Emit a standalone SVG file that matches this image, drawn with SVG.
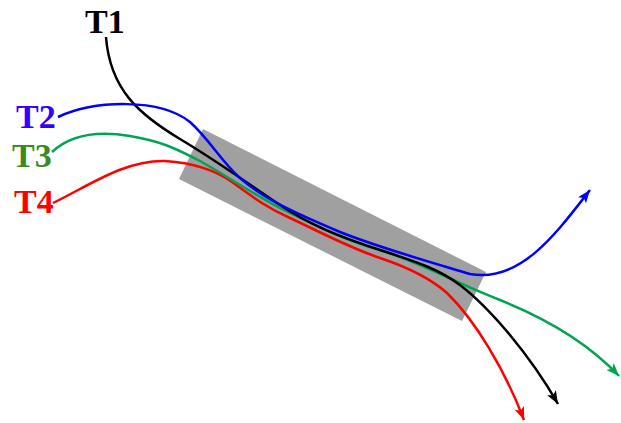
<svg xmlns="http://www.w3.org/2000/svg" width="621" height="423" viewBox="0 0 621 423">
<style>
.lbl{font-family:"Liberation Serif","Times New Roman",serif;font-weight:bold;font-size:34px}
.c{fill:none;stroke-width:2.5}
</style>
<defs>
<marker id="ak" markerUnits="userSpaceOnUse" markerWidth="14" markerHeight="10" refX="13" refY="5" orient="auto"><path d="M0,0 L13,5 L0,10 L3,5 Z" fill="#000"/></marker>
<marker id="ab" markerUnits="userSpaceOnUse" markerWidth="14" markerHeight="10" refX="13" refY="5" orient="auto"><path d="M0,0 L13,5 L0,10 L3,5 Z" fill="#0000ff"/></marker>
<marker id="ag" markerUnits="userSpaceOnUse" markerWidth="14" markerHeight="10" refX="13" refY="5" orient="auto"><path d="M0,0 L13,5 L0,10 L3,5 Z" fill="#00a550"/></marker>
<marker id="ar" markerUnits="userSpaceOnUse" markerWidth="14" markerHeight="10" refX="13" refY="5" orient="auto"><path d="M0,0 L13,5 L0,10 L3,5 Z" fill="#ff0000"/></marker>
</defs>
<g id="box"><polygon points="203,129 486,272 462,321 179,179" fill="#a0a0a0"/></g>
<g id="connectors">
<path id="T4line" class="c" stroke="#ff0000" marker-end="url(#ar)" d="M53,203 C90,185 125,160 165,161 C195,163 215,170 232,182 C250,195 265,207 290,218 C320,232 350,248 380,258 C410,268 430,278 447,293 C475,320 505,370 524,420"/>
<path id="T3line" class="c" stroke="#00a550" marker-end="url(#ag)" d="M52,152 C70,135 95,130 130,136 C160,141 175,148 200,161 C230,178 250,192 280,208 C320,228 350,242 380,250 C420,262 460,285 500,300 C550,320 590,345 619,376"/>
<path id="T1line" class="c" stroke="#000" marker-end="url(#ak)" d="M106,37 C110,90 140,115 180,139 C220,163 250,185 280,205 C310,225 340,237 380,250 C420,263 440,270 460,285 C490,308 530,355 558,404"/>
<path id="T2line" class="c" stroke="#0000ff" marker-end="url(#ab)" d="M58,117 C95,100 160,98 190,122 C210,140 220,160 240,178 C265,200 300,215 340,232 C380,248 430,262 470,274 C520,283 555,235 590,190"/>
</g>
<g id="T1"><text class="lbl" x="85" y="33" fill="#000">T1</text></g>
<g id="T2"><text class="lbl" x="16" y="128" fill="#3300ff">T2</text></g>
<g id="T3"><text class="lbl" x="12" y="167" fill="#3a8a22">T3</text></g>
<g id="T4"><text class="lbl" x="14" y="213" fill="#ff0000">T4</text></g>
</svg>
